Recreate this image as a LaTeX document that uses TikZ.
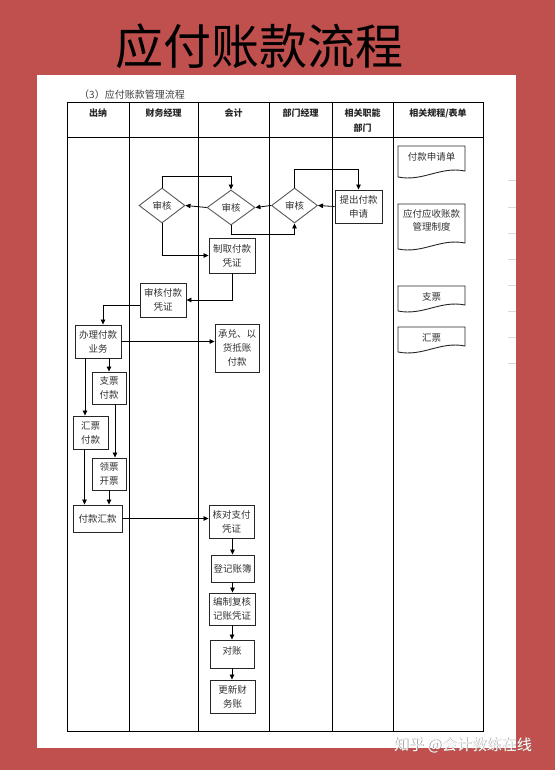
\documentclass[tikz,border=0pt]{standalone}
\usepackage{fontspec}
\setmainfont{Noto Sans CJK SC}
\usetikzlibrary{shapes.geometric,arrows.meta}
\definecolor{bgred}{RGB}{192,80,77}
\tikzset{
  proc/.style={draw=black!85, line width=0.9pt, inner sep=0pt, align=center,
    font=\fontsize{9.5}{14}\selectfont, text=black!80},
  dec/.style={diamond, draw=black!65, line width=0.9pt, inner sep=0pt,
    minimum width=46pt, minimum height=35pt, font=\fontsize{9.5}{14}\selectfont, text=black!80},
  arr/.style={line width=0.8pt, -{Triangle[length=5pt,width=4.5pt]}},
  gridline/.style={line width=1pt, black},
  head/.style={font=\fontsize{9}{15}\selectfont\bfseries, align=center, inner sep=0pt, text=black!85},
  doctext/.style={font=\fontsize{9.5}{13}\selectfont, align=center, inner sep=0pt, text=black!80},
}
\newcommand\docbox[7]{%
  \draw[black!85, line width=0.9pt] (#1,#4) -- (#1,#2) -- (#3,#2) -- (#3,#4-6)
    .. controls ({#3-25},#4-11) and ({#1+25},#4+5) .. (#1,#4);
  \node[doctext] (#7) at ({(#1+#3)/2},#5) {#6};
}
\begin{document}
\begin{tikzpicture}[x=1pt,y=-1pt]
\useasboundingbox (0,0) rectangle (555,770);
\fill[bgred] (0,0) rectangle (555,770);
\fill[white] (37,75) rectangle (516,748);

% title
\node[font=\fontsize{48}{50}\selectfont, inner sep=0pt] (title) at (259,46) {应付账款流程};
\node[anchor=west, font=\fontsize{10}{12}\selectfont, text=black!75, inner sep=0pt] (sub) at (79,95) {（3）应付账款管理流程};

% table
\draw[gridline] (67,103) rectangle (483,731);
\draw[gridline] (67,138) -- (483,138);
\foreach \x in {129,198,269,332,393} \draw[gridline] (\x,103) -- (\x,731);
\node[head] (h1) at (98,113) {出纳};
\node[head] (h2) at (163.5,113) {财务经理};
\node[head] (h3) at (233.5,113) {会计};
\node[head] (h4) at (300.5,113) {部门经理};
\node[head] (h5) at (362.5,120.5) {相关职能\\部门};
\node[head] (h6) at (438,113) {相关规程/表单};

% faint marks at right
\foreach \y in {180,207,233,259,285,311,337,363} \draw[black!15, line width=0.6pt] (508,\y) -- (516,\y);

% nodes
\node[proc, minimum width=47pt, minimum height=33pt] (apply) at (358.5,206.5) {提出付款\\申请};
\node[dec] (d3) at (294.5,205.5) {审核};
\node[dec, minimum width=48pt] (d2) at (231,207.5) {审核};
\node[dec] (d1) at (162,205.5) {审核};
\node[proc, minimum width=46pt, minimum height=35pt] (voucher) at (232,255.5) {制取付款\\凭证};
\node[proc, minimum width=46pt, minimum height=34pt] (review) at (163,300) {审核付款\\凭证};
\node[proc, minimum width=46pt, minimum height=33pt] (handle) at (98,341.5) {办理付款\\业务};
\node[proc, minimum width=44pt, minimum height=48pt] (accept) at (237,348) {承兑、以\\货抵账\\付款};
\node[proc, minimum width=34pt, minimum height=32pt] (check) at (109,388) {支票\\付款};
\node[proc, minimum width=35pt, minimum height=33pt] (draft) at (90.5,432.5) {汇票\\付款};
\node[proc, minimum width=34pt, minimum height=32pt] (ticket) at (109,474) {领票\\开票};
\node[proc, minimum width=49pt, minimum height=27pt] (pay) at (97.5,518.5) {付款汇款};
\node[proc, minimum width=45pt, minimum height=33pt] (verify) at (231.5,521.5) {核对支付\\凭证};
\node[proc, minimum width=43pt, minimum height=27pt] (ledger) at (232.5,568.5) {登记账簿};
\node[proc, minimum width=46pt, minimum height=32pt] (compile) at (232,609) {编制复核\\记账凭证};
\node[proc, minimum width=44pt, minimum height=28pt, text depth=7pt] (recon) at (232,654) {对账};
\node[proc, minimum width=45pt, minimum height=33pt] (update) at (232.5,696.5) {更新财\\务账};

% documents
\docbox{398}{146}{465}{177}{157}{付款申请单}{doc1}
\docbox{398}{204}{465}{249}{220.5}{应付应收账款\\管理制度}{doc2}
\docbox{398}{286}{465}{311}{297}{支票}{doc3}
\docbox{398}{327}{465}{352}{337.5}{汇票}{doc4}

% connectors
\draw[arr] (apply.west) -- (d3.east);
\draw[arr] (d3.north) -- ++(0,-18) -| (apply.north);
\draw[arr] (d3.west) -- (d2.east);
\draw[arr] (d2.south) -- ++(0,9) -| (d3.south);
\draw[arr] (d2.west) -- (d1.east);
\draw[arr] (d1.north) -- ++(0,-11) -| (d2.north);
\draw[arr] (d1.south) |- (voucher.west);
\draw[arr] (voucher.south) |- (review.east);
\coordinate (r1) at ([yshift=-5pt]review.west);
\coordinate (h0) at ([xshift=5pt]handle.north);
\draw[arr] (r1) -| (h0);
\draw[arr] (handle.east) -- (handle.east -| accept.west);
\draw[arr] (check.north |- handle.south) -- (check.north);
\coordinate (hd) at ([xshift=-13pt]handle.south);
\draw[arr] (hd) -- (hd |- draft.north);
\coordinate (cs) at ([xshift=6pt]check.south);
\draw[arr] (cs) -- (cs |- ticket.north);
\coordinate (ds) at ([xshift=-6pt]draft.south);
\draw[arr] (ds) -- (ds |- pay.north);
\draw[arr] (ticket.south) -- (ticket.south |- pay.north);
\draw[arr] (pay.east) -- (pay.east -| verify.west);
\coordinate (v1) at ([xshift=1pt]verify.south);
\draw[arr] (v1) -- (v1 |- ledger.north);
\draw[arr] (ledger.south) -- (ledger.south |- compile.north);
\draw[arr] (compile.south) -- (compile.south |- recon.north);
\draw[arr] (recon.south) -- (recon.south |- update.north);

% watermark
\node[text=black!45, font=\fontsize{15}{15}\selectfont, inner sep=0pt] (wms) at (463.7,745.7) {知乎 @会计教练在线};
\node[text=white, font=\fontsize{15}{15}\selectfont, inner sep=0pt] (wm) at (463,745) {知乎 @会计教练在线};
\end{tikzpicture}
\end{document}
